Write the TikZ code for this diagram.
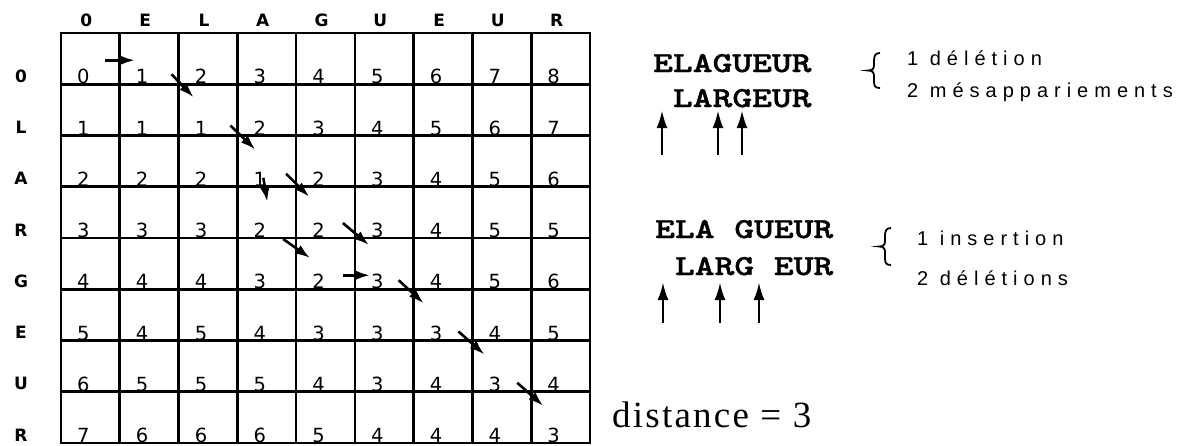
\documentclass[tikz,border=0pt]{standalone}
\usepackage{fontspec}
\setmainfont{Liberation Serif}
\newfontfamily\cellfont{DejaVu Sans}
\newfontfamily\wordfont[FakeStretch=1.3,FakeBold=1.2]{lmmonolt10-bold.otf}
\newfontfamily\notefont[LetterSpace=30]{Liberation Sans}
\newfontfamily\distfont[LetterSpace=6]{Liberation Serif}
\usetikzlibrary{arrows.meta}

\begin{document}
\begin{tikzpicture}[x=1pt,y=-1pt,
  gridline/.style={line width=2.6pt,line cap=rect},
  digit/.style={font=\cellfont\fontsize{19.5}{19.5}\selectfont,inner sep=0pt,anchor=base},
  headlabel/.style={font=\cellfont\bfseries\fontsize{17}{17}\selectfont,inner sep=0pt,anchor=base},
  movearrow/.style={line width=2.6pt,-{Latex[length=15pt,width=10pt]}},
  uparrow/.style={line width=2.8pt,-{Latex[length=18pt,width=11pt]}},
  word/.style={font=\wordfont\fontsize{29}{29}\selectfont,inner sep=0pt,anchor=base west},
  note/.style={font=\notefont\fontsize{20}{20}\selectfont,inner sep=0pt,anchor=base west},
  bracepath/.style={line width=1.8pt}]
\useasboundingbox (0,0) rectangle (1192,445);

\foreach \i in {0,...,9}
  \foreach \j in {0,...,8}
    \coordinate (p-\i-\j) at ({61+58.78*\i},{33+51.25*\j});
\foreach \i in {0,...,9} \draw[gridline] (p-\i-0) -- (p-\i-8);
\foreach \j in {0,...,8} \draw[gridline] (p-0-\j) -- (p-9-\j);

\foreach \t [count=\c from 0] in {0,E,L,A,G,U,E,U,R}
  \node[headlabel] (h-\c) at ({61+58.78*\c+25.4},26) {\t};
\foreach \t [count=\r from 0] in {0,L,A,R,G,E,U,R}
  \node[headlabel] (v-\r) at (21,{33+51.25*\r+49.25}) {\t};

\foreach \vals [count=\r from 0] in {{0,1,2,3,4,5,6,7,8},{1,1,1,2,3,4,5,6,7},
    {2,2,2,1,2,3,4,5,6},{3,3,3,2,2,3,4,5,5},{4,4,4,3,2,3,4,5,6},
    {5,4,5,4,3,3,3,4,5},{6,5,5,5,4,3,4,3,4},{7,6,6,6,5,4,4,4,3}}
  \foreach \v [count=\c from 0] in \vals
    \node[digit] (n-\r-\c) at ({61+58.78*\c+22.4},{33+51.25*\r+50.8}) {\v};

\draw[movearrow] ([shift={(-15,-24)}]p-1-1) -- ([shift={(15,-24)}]p-1-1);
\draw[movearrow] ([shift={(-7,-10)}]p-2-1) -- ([shift={(15,13)}]p-2-1);
\draw[movearrow] ([shift={(-7,-10)}]p-3-2) -- ([shift={(18,14)}]p-3-2);
\draw[movearrow] ([shift={(26,-9)}]p-3-3) -- ([shift={(30,15)}]p-3-3);
\draw[movearrow] ([shift={(-10,-13)}]p-4-3) -- ([shift={(13,10)}]p-4-3);
\draw[movearrow] ([shift={(-12,-15)}]p-5-4) -- ([shift={(14,7)}]p-5-4);
\draw[movearrow] ([shift={(-13,1)}]p-4-4) -- ([shift={(14,20)}]p-4-4);
\draw[movearrow] ([shift={(-12,-14)}]p-5-5) -- ([shift={(15,-14)}]p-5-5);
\draw[movearrow] ([shift={(-15,-9)}]p-6-5) -- ([shift={(10,14)}]p-6-5);
\draw[movearrow] ([shift={(-14,-9)}]p-7-6) -- ([shift={(12,14)}]p-7-6);
\draw[movearrow] ([shift={(-14,-9)}]p-8-7) -- ([shift={(12,14)}]p-8-7);

\node[word] (w1) at (653,72) {ELAGUEUR};
\node[word] (w2) at (653,107) {\hphantom{E}LARGEUR};
\node[word] (w3) at (655,238) {ELA\hphantom{E}GUEUR};
\node[word] (w4) at (655,275) {\hphantom{E}LARG\hphantom{E}EUR};

\foreach \x [count=\k] in {662,718,742} {
  \coordinate (ta-\k) at (\x,155);
  \coordinate (tb-\k) at (\x,110);
  \draw[uparrow] (ta-\k) -- (tb-\k);
}
\foreach \x [count=\k] in {663,720,759} {
  \coordinate (sa-\k) at (\x,323);
  \coordinate (sb-\k) at (\x,282);
  \draw[uparrow] (sa-\k) -- (sb-\k);
}

\draw[bracepath] (880,53) .. controls (875,53) and (874,56) .. (874,61) -- (874,65)
  .. controls (874,69) and (872,70.5) .. (868,70.5)
  .. controls (872,70.5) and (874,72) .. (874,76) -- (874,81)
  .. controls (874,86) and (875,88) .. (880,88);
\draw[bracepath] (891,228) .. controls (886,228) and (885,231) .. (885,236) -- (885,241)
  .. controls (885,245) and (883,246.5) .. (879,246.5)
  .. controls (883,246.5) and (885,248) .. (885,252) -- (885,258)
  .. controls (885,263) and (886,265) .. (891,265);

\node[note] (d1) at (907,65) {1 délétion};
\node[note] (d2) at (907,97) {2 mésappariements};
\node[note] (d3) at (917,245) {1 insertion};
\node[note] (d4) at (917,285) {2 délétions};

\node[anchor=base west,inner sep=0pt,font=\distfont\fontsize{37}{37}\selectfont] (dist) at (612,427) {distance = 3};
\end{tikzpicture}
\end{document}
